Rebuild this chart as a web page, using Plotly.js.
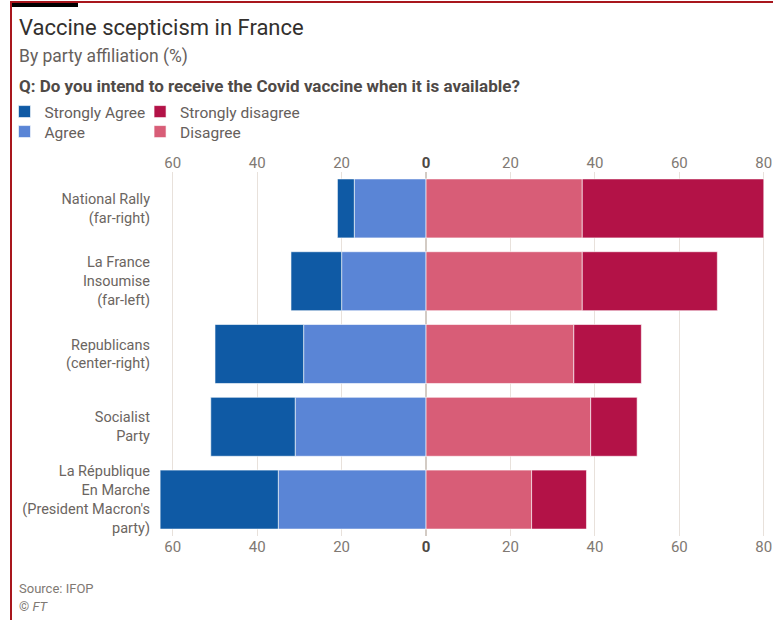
<!DOCTYPE html>
<html>
<head>
<meta charset="utf-8">
<script src="https://cdn.plot.ly/plotly-3.0.1.min.js"></script>
<style>
  html, body { margin: 0; padding: 0; background: #ffffff; }
  #wrap { position: relative; width: 773px; height: 620px; overflow: hidden; }
  #chart { position: absolute; left: 0; top: 0; width: 773px; height: 620px; }
  #bt { position: absolute; left: 10px; top: 1px; width: 763px; height: 2px; background: #a8161d; }
  #bl { position: absolute; left: 10px; top: 1px; width: 2px; height: 619px; background: #a8161d; }
  #bk { position: absolute; left: 12px; top: 3px; width: 66px; height: 4px; background: #000000; }
</style>
</head>
<body>
<div id="wrap">
  <div id="chart"></div>
  <div id="bt"></div><div id="bl"></div><div id="bk"></div>
</div>
<script>
// Categories (top to bottom)
const parties = [
  "National Rally<br>(far-right)",
  "La France<br>Insoumise<br>(far-left)",
  "Republicans<br>(center-right)",
  "Socialist<br>Party",
  "La République<br>En Marche<br>(President Macron's<br>party)"
];
// Percentages
const stronglyAgree    = [4, 12, 21, 20, 28];
const agree            = [17, 20, 29, 31, 35];
const disagree         = [37, 37, 35, 39, 25];
const stronglyDisagree = [43, 32, 16, 11, 13];

// Tick labels
const tickVals  = [-60, -40, -20, 0, 20, 40, 60, 80];
const tickTexts = ["60", "40", "20", "<b style='color:#4d4845'>0</b>", "20", "40", "60", "80"];

const FONT = "Roboto, 'Liberation Sans', sans-serif";
const neg = a => a.map(v => -v);
const EDGE = { color: "rgba(255,255,255,0.6)", width: 1 };

const traces = [
  { type: "bar", orientation: "h", name: "Agree", y: parties, x: neg(agree),
    marker: { color: "#5a85d6", line: EDGE }, legend: "legend3" },
  { type: "bar", orientation: "h", name: "Strongly Agree", y: parties, x: neg(stronglyAgree),
    marker: { color: "#0f5aa5", line: EDGE }, legend: "legend" },
  { type: "bar", orientation: "h", name: "Disagree", y: parties, x: disagree,
    marker: { color: "#d85d77", line: EDGE }, legend: "legend4" },
  { type: "bar", orientation: "h", name: "Strongly disagree", y: parties, x: stronglyDisagree,
    marker: { color: "#b31247", line: EDGE }, legend: "legend2" }
];

// plot area in pixels
const L = 156, R = 5, T = 172, B = 84, W = 773, H = 620;
const pw = W - L - R, ph = H - T - B;
const px = x => (x - L) / pw;
const py = y => (H - B - y) / ph;

const xr = [-63.5, 81];

function leg(xp, yp) {
  return {
    x: px(xp), y: py(yp), xanchor: "left", yanchor: "middle",
    orientation: "v", font: { size: 15.5, color: "#66605c" },
    bgcolor: "rgba(0,0,0,0)", tracegroupgap: 0, itemclick: false
  };
}

const layout = {
  width: W, height: H,
  margin: { l: L, r: R, t: T, b: B, pad: 0 },
  paper_bgcolor: "#ffffff", plot_bgcolor: "#ffffff",
  font: { family: FONT, color: "#66605c", size: 14 },
  barmode: "relative",
  bargap: 0.19,
  showlegend: true,
  hovermode: false,
  xaxis: {
    range: xr, tickmode: "array", tickvals: tickVals, ticktext: tickTexts,
    showgrid: true, gridcolor: "#e8e1db", gridwidth: 1,
    zeroline: true, zerolinecolor: "#d3cbc4", zerolinewidth: 2,
    showline: false, ticks: "", tickfont: { size: 15, color: "#807973" },
    fixedrange: true
  },
  xaxis2: {
    range: xr, overlaying: "x", side: "top", anchor: "y",
    tickmode: "array", tickvals: tickVals, ticktext: tickTexts,
    showgrid: false, zeroline: false, showline: false, ticks: "",
    tickfont: { size: 15, color: "#807973" }, fixedrange: true
  },
  yaxis: {
    autorange: "reversed", showgrid: false, zeroline: false, showline: false,
    ticks: "", ticklabelstandoff: 7,
    tickfont: { size: 14.5, color: "#6b6561" }, fixedrange: true
  },
  legend: leg(2, 112),
  legend2: leg(138, 112),
  legend3: leg(2, 132),
  legend4: leg(138, 132),
  annotations: [
    { text: "Vaccine scepticism in France", xref: "paper", yref: "paper",
      x: px(15), y: py(27), xanchor: "left", yanchor: "middle", showarrow: false,
      font: { size: 22, color: "#33302e", family: FONT } },
    { text: "By party affiliation (%)", xref: "paper", yref: "paper",
      x: px(15), y: py(56), xanchor: "left", yanchor: "middle", showarrow: false,
      font: { size: 17.5, color: "#66605c", family: FONT } },
    { text: "<b>Q: Do you intend to receive the Covid vaccine when it is available?</b>", xref: "paper", yref: "paper",
      x: px(15), y: py(86), xanchor: "left", yanchor: "middle", showarrow: false,
      font: { size: 17, color: "#4f4a47", family: FONT } },
    { text: "Source: IFOP", xref: "paper", yref: "paper",
      x: px(15), y: py(588), xanchor: "left", yanchor: "middle", showarrow: false,
      font: { size: 13, color: "#807973", family: FONT } },
    { text: "© <i>FT</i>", xref: "paper", yref: "paper",
      x: px(15), y: py(606), xanchor: "left", yanchor: "middle", showarrow: false,
      font: { size: 13, color: "#807973", family: FONT } }
  ]
};

// invisible point on the top axis so that it renders
traces.push({ type: "scatter", x: [0], y: [parties[0]], xaxis: "x2", yaxis: "y",
  mode: "markers", marker: { opacity: 0 }, showlegend: false, hoverinfo: "skip" });

Plotly.newPlot("chart", traces, layout, { staticPlot: true, displayModeBar: false });
</script>
</body>
</html>
